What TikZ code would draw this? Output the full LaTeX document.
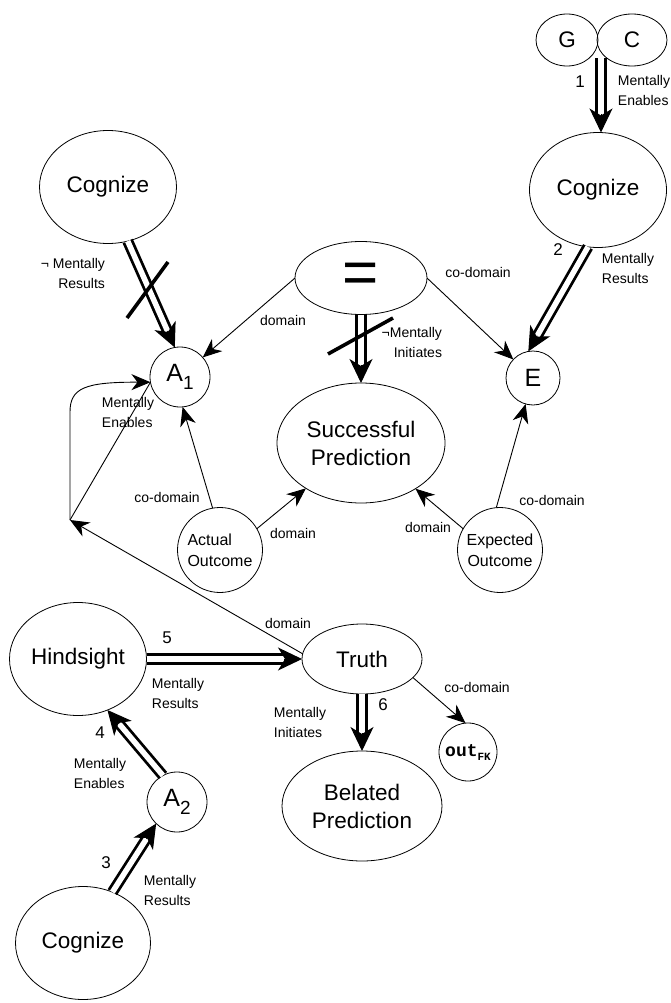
\documentclass[tikz,border=0pt]{standalone}
\usepackage{fontspec}
\setmainfont{Liberation Sans}
\newfontfamily\monofam{Liberation Mono}
\usetikzlibrary{arrows.meta,calc,shapes.geometric}

\tikzset{
  every node/.style={inner sep=0pt, outer sep=0pt},
  oval/.style={draw, ellipse, line width=0.8pt, align=center,
    font=\fontsize{22.5}{28}\selectfont},
  ring/.style={draw, circle, line width=0.8pt, align=center},
  small/.style={font=\fontsize{16}{21}\selectfont},
  big/.style={font=\fontsize{25}{25}\selectfont},
  lbl/.style={font=\fontsize{14}{20}\selectfont, align=left},
  num/.style={font=\fontsize{17}{17}\selectfont},
  link/.style={line width=0.9pt, -{Stealth[length=19pt,width=16pt,inset=6pt]}},
  plain/.style={line width=0.9pt},
  dblline/.style={double, double distance=5.5pt, line width=2.8pt, shorten >=13pt},
  dbltip/.style={line width=1pt, -{Stealth[length=24pt,width=23pt,inset=7pt]}},
  cross/.style={line width=3.6pt},
}

% double-lined causal arrow: two parallel strokes ending in one large head
\newcommand\dblarrow[2]{%
  \draw[dblline] (#1) -- (#2);
  \draw[dbltip] ($(#2)!18pt!(#1)$) -- (#2);
}

\begin{document}
\begin{tikzpicture}[x=1pt, y=-1pt]
\useasboundingbox (0,0) rectangle (670,1003);

% ---- nodes ----
\node[oval, minimum width=62pt, minimum height=52pt] (G) at (567,40) {G};
\node[oval, minimum width=70pt, minimum height=52pt] (C) at (632,40) {C};
\coordinate (gc) at (601,58);
\node[oval, minimum width=137pt, minimum height=115pt] (rcog) at (598,190) {Cognize};
\coordinate (rtop) at (gc |- rcog.north);
\node[oval, minimum width=137pt, minimum height=113pt] (lcog) at (108,187) {Cognize};
\node[oval, minimum width=132pt, minimum height=73pt,
      font=\fontsize{62}{62}\selectfont] (eqn) at (361,278) {=};
\node[ring, big, minimum size=60pt] (A1) at (180,377)
  {A\raisebox{-8pt}{\fontsize{19}{19}\selectfont 1}};
\node[ring, big, minimum size=54pt] (E) at (533,378) {E};
\node[oval, minimum width=168pt, minimum height=120pt] (sp) at (361,443)
  {Successful\\Prediction};
\node[ring, small, minimum size=85pt, align=left] (ao) at (220,550) {Actual\\Outcome};
\node[ring, small, minimum size=85pt] (eo) at (500,550) {Expected\\Outcome};
\node[oval, minimum width=137pt, minimum height=113pt] (hs) at (78,659) {Hindsight};
\node[oval, minimum width=120pt, minimum height=70pt] (tr) at (362,659) {Truth};
\node[ring, minimum size=58pt, font=\monofam\bfseries\fontsize{18}{18}\selectfont]
  (out) at (468,752) {out\raisebox{-4pt}{\fontsize{11}{11}\selectfont FK}};
\node[oval, minimum width=160pt, minimum height=110pt] (bp) at (362,806)
  {Belated\\Prediction};
\node[ring, big, minimum size=60pt] (A2) at (177,802)
  {A\raisebox{-8pt}{\fontsize{19}{19}\selectfont 2}};
\node[oval, minimum width=135pt, minimum height=113pt] (bcog) at (83,943) {Cognize};
\coordinate (bend) at (70,520);

% ---- double causal arrows ----
\dblarrow{gc}{rtop}
\dblarrow{rcog.-100}{E.100}
\dblarrow{lcog.-70}{A1.100}
\dblarrow{eqn.south}{sp.north}
\dblarrow{hs.east}{tr.west}
\dblarrow{tr.south}{bp.north}
\dblarrow{A2.118}{hs.-60}
\dblarrow{bcog.60}{A2.-134}

% negation strokes
\draw[cross] (127,318) -- (168,262);
\draw[cross] (328,354) -- (393,318);

% ---- domain / co-domain links ----
\draw[link] (eqn.west) -- (A1);
\draw[link] (eqn.east) -- (E);
\draw[link] (ao.100) -- (A1.-85);
\draw[link] (ao.30) -- (sp);
\draw[link] (eo.95) -- (E);
\draw[link] (eo.150) -- (sp);
\draw[link] (tr.175) -- (bend);
\draw[link] (tr.-20) -- (out.95);
\draw[link] (bend) -- (70,412) .. controls (70,388) and (85,382) .. (A1.190);
\draw[plain] (bend) -- (A1.190);

% ---- labels ----
\node[num] (n1) at (580,82) {1};
\node[lbl] (l1) at (644,90) {Mentally\\Enables};
\node[num] (n2) at (558,250) {2};
\node[lbl] (l2) at (628,268) {Mentally\\Results};
\node[lbl] (l3) at (478,272) {co-domain};
\node[lbl] (l4) at (283,320) {domain};
\node[lbl, align=right, anchor=east] (l5) at (442,342) {¬Mentally\\Initiates};
\node[lbl, align=right, anchor=east] (l6) at (105,273) {¬ Mentally\\Results};
\node[lbl] (l7) at (128,412) {Mentally\\Enables};
\node[lbl] (l8) at (167,497) {co-domain};
\node[lbl] (l9) at (293,533) {domain};
\node[lbl] (l10) at (428,527) {domain};
\node[lbl] (l11) at (552,500) {co-domain};
\node[lbl] (l12) at (288,623) {domain};
\node[num] (n5) at (167,638) {5};
\node[lbl] (l13) at (178,693) {Mentally\\Results};
\node[lbl] (l14) at (300,722) {Mentally\\Initiates};
\node[num] (n6) at (383,705) {6};
\node[lbl] (l15) at (477,687) {co-domain};
\node[num] (n4) at (100,733) {4};
\node[lbl] (l16) at (100,773) {Mentally\\Enables};
\node[num] (n3) at (106,863) {3};
\node[lbl] (l17) at (170,890) {Mentally\\Results};
\end{tikzpicture}
\end{document}
